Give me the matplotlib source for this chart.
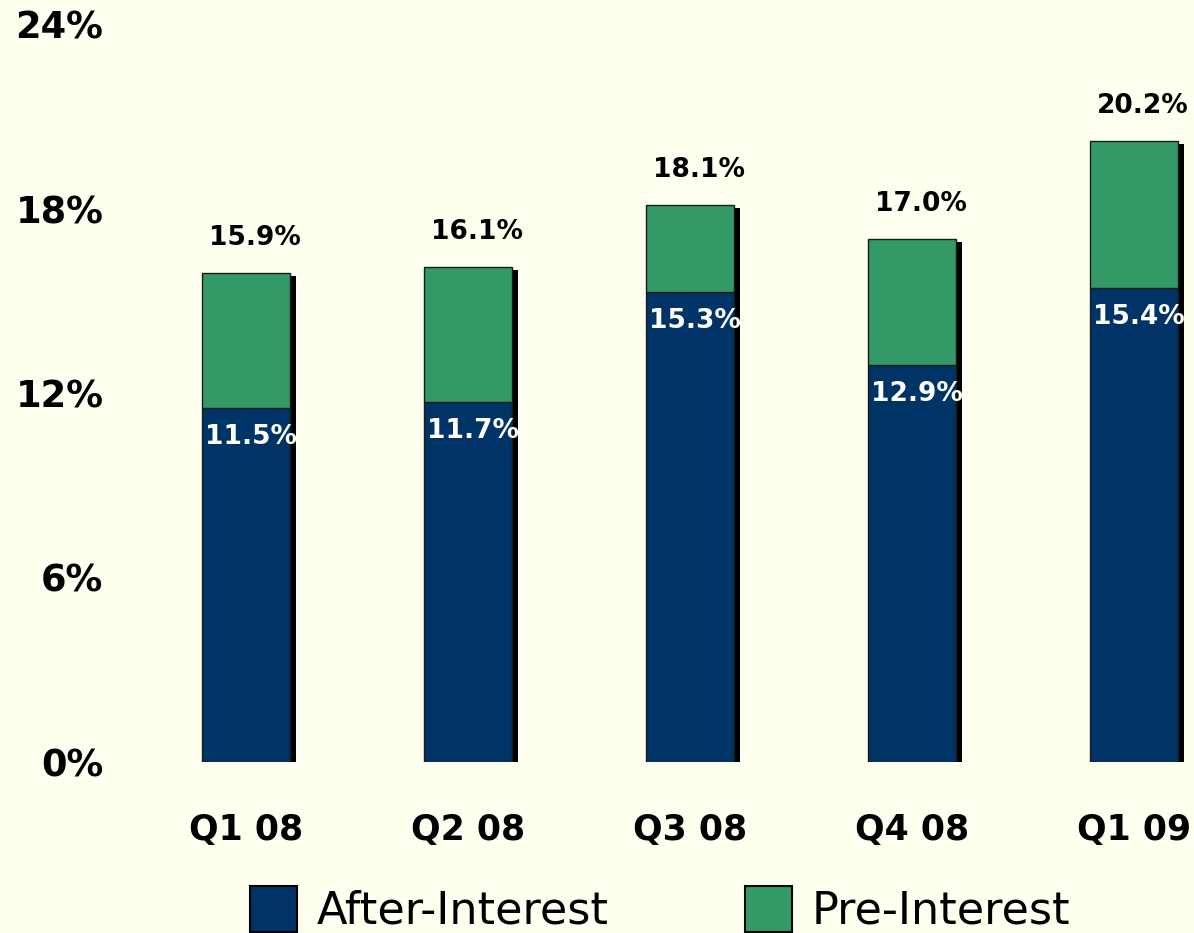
import matplotlib
matplotlib.use("Agg")
import matplotlib.pyplot as plt
from matplotlib.patches import Patch
from matplotlib.transforms import offset_copy

categories = ["Q1 08", "Q2 08", "Q3 08", "Q4 08", "Q1 09"]
after_interest = [11.5, 11.7, 15.3, 12.9, 15.4]
pre_interest = [15.9, 16.1, 18.1, 17.0, 20.2]
yticks = [0, 6, 12, 18, 24]
ytick_labels = ["0%", "6%", "12%", "18%", "24%"]

bg = "#FFFFF0"
navy = "#003366"
green = "#339966"

W, H = 1194, 933
fig = plt.figure(figsize=(W / 100, H / 100), dpi=100, facecolor=bg)
ax_left, ax_right = 120, 1194
ax_top, ax_bottom = 24, 762
ax = fig.add_axes([ax_left / W, 1 - ax_bottom / H, (ax_right - ax_left) / W, (ax_bottom - ax_top) / H])
ax.set_facecolor(bg)

x = list(range(len(categories)))
width = 0.396
diff = [p - a for p, a in zip(pre_interest, after_interest)]

shadow_tr = offset_copy(ax.transData, fig=fig, x=6, y=-3, units="dots")
ax.bar(x, pre_interest, width=width, color="black", transform=shadow_tr, zorder=1)
ax.bar(x, after_interest, width=width, color=navy, edgecolor="#1a1a1a", linewidth=1, zorder=2)
ax.bar(x, diff, bottom=after_interest, width=width, color=green, edgecolor="#1a1a1a", linewidth=1, zorder=2)

top_tr = offset_copy(ax.transData, fig=fig, x=9, y=35, units="dots")
in_tr = offset_copy(ax.transData, fig=fig, x=5, y=-29, units="dots")
for xi, a, p in zip(x, after_interest, pre_interest):
    ax.text(xi, p, f"{p:.1f}%", transform=top_tr, ha="center", va="center",
            fontsize=19, fontweight="bold", color="black", zorder=3)
    ax.text(xi, a, f"{a:.1f}%", transform=in_tr, ha="center", va="center",
            fontsize=19, fontweight="bold", color="white", zorder=3)

ax.set_ylim(0, 24)
ax.set_xlim((ax_left - 246) / 222, (ax_right - 246) / 222)
ax.set_yticks(yticks)
ax.set_yticklabels(ytick_labels, fontsize=26.5, fontweight="bold")
ax.set_xticks(x)
ax.set_xticklabels(categories, fontsize=25, fontweight="bold")
ax.tick_params(axis="y", length=0, pad=12)
ax.tick_params(axis="x", length=0, pad=37)
for s in ax.spines.values():
    s.set_visible(False)

handles = [Patch(facecolor=navy, edgecolor="black", linewidth=1.5),
           Patch(facecolor=green, edgecolor="black", linewidth=1.5)]
fig.legend(handles, ["After-Interest", "Pre-Interest"], loc="upper left",
           bbox_to_anchor=(250 / W, 1 - 886 / H), ncol=2, frameon=False,
           fontsize=32, handlelength=1.06, handleheight=1.2, handletextpad=0.45,
           columnspacing=3.05, borderpad=0, borderaxespad=0)

fig.savefig("out.png", dpi=100, facecolor=bg)
